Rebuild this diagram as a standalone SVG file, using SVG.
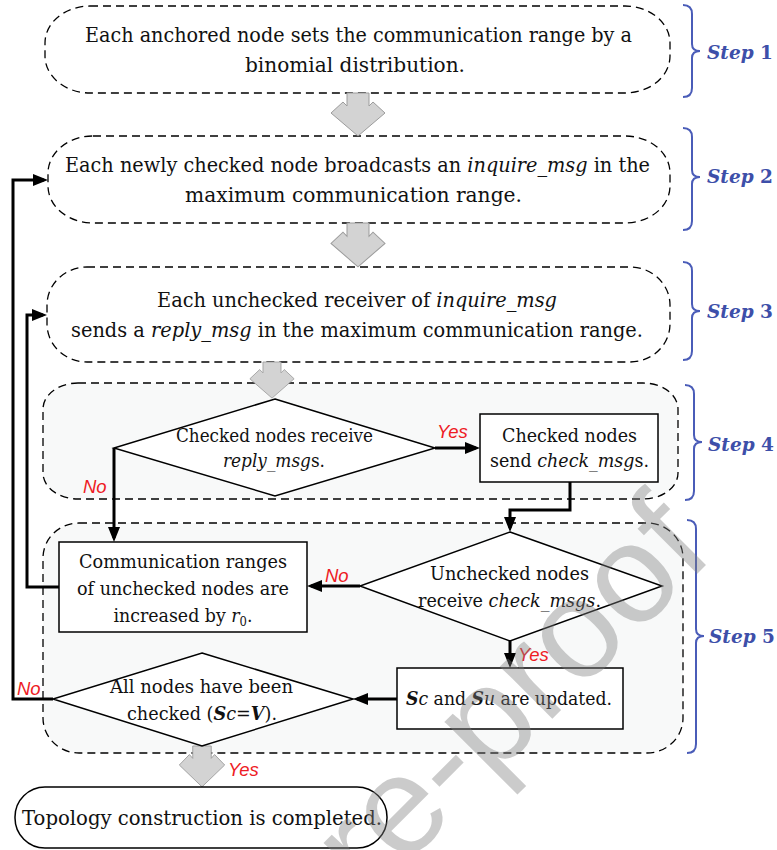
<svg xmlns="http://www.w3.org/2000/svg" width="777" height="850" viewBox="0 0 777 850">
<style>
.dash{fill:#fff;stroke:#000;stroke-width:1.3;stroke-dasharray:8 5}
.region{fill:#f8f9f9;stroke:#000;stroke-width:1.3;stroke-dasharray:8 5}
.shape{fill:#fff;stroke:#000;stroke-width:1.5}
.t{font-family:"DejaVu Serif",serif;font-size:21px;fill:#111;text-anchor:middle}
.s{font-size:18px}
.i{font-style:italic}
.b{font-weight:bold}
.lab{font-family:"Liberation Sans",Arial,sans-serif;font-style:italic;fill:#ee1c25;font-size:18.5px}
.step{font-family:"DejaVu Serif",serif;font-weight:bold;fill:#3d4fa9;font-size:19px}
.brace{fill:none;stroke:#4a5cb8;stroke-width:2}
.conn{fill:none;stroke:#000;stroke-width:3;marker-end:url(#ah)}
.fat{fill:#d3d3d3;stroke:#9c9c9c;stroke-width:1}
.wm{font-family:"Liberation Sans",Arial,sans-serif;font-size:140px;fill:#808080;opacity:0.4}
</style>
<defs>
<marker id="ah" markerUnits="userSpaceOnUse" markerWidth="15" markerHeight="12" refX="11" refY="6" orient="auto">
<path d="M0,0 L15,6 L0,12 Z" fill="#000"/>
</marker>
<path id="fatArrow" d="M-11,0 H11 V13 L15,9 L27,20 L0,43 L-27,20 L-15,9 L-11,13 Z"/>
</defs>
<rect width="777" height="850" fill="#fff"/>

<g id="step4-region"><rect class="region" x="43" y="383" width="635" height="116" rx="35" ry="26"/></g>
<g id="step5-region"><rect class="region" x="43" y="523" width="640" height="230" rx="36" ry="35"/></g>

<g id="step1">
<rect class="dash" x="45" y="6" width="625" height="87" rx="45" ry="37"/>
<text class="t" x="358.5" y="41.5" textLength="547" lengthAdjust="spacingAndGlyphs">Each anchored node sets the communication range by a</text>
<text class="t" x="355" y="71.5" textLength="220" lengthAdjust="spacingAndGlyphs">binomial distribution.</text>
</g>

<g id="step2">
<rect class="dash" x="48" y="136" width="622" height="87" rx="45" ry="37"/>
<text class="t" x="357.5" y="172" textLength="585" lengthAdjust="spacingAndGlyphs">Each newly checked node broadcasts an <tspan class="i">inquire_msg</tspan> in the</text>
<text class="t" x="353.5" y="202" textLength="337" lengthAdjust="spacingAndGlyphs">maximum communication range.</text>
</g>

<g id="step3">
<rect class="dash" x="47" y="267" width="623" height="95" rx="40" ry="38"/>
<text class="t" x="357" y="307" textLength="400" lengthAdjust="spacingAndGlyphs">Each unchecked receiver of <tspan class="i">inquire_msg</tspan></text>
<text class="t" x="357" y="337" textLength="572" lengthAdjust="spacingAndGlyphs">sends a <tspan class="i">reply_msg</tspan> in the maximum communication range.</text>
</g>

<g id="fat-arrows">
<use href="#fatArrow" class="fat" transform="translate(358,93)"/>
<use href="#fatArrow" class="fat" transform="translate(358,223) scale(1,1.02)"/>
<use href="#fatArrow" class="fat" transform="translate(272,362) scale(0.82,0.84)"/>
<use href="#fatArrow" class="fat" transform="translate(202,746) scale(0.84,0.95)"/>
</g>

<g id="d1">
<polygon class="shape" points="275,399 435,448 275,496 114,448"/>
<text class="t s" x="274.5" y="442" textLength="197" lengthAdjust="spacingAndGlyphs">Checked nodes receive</text>
<text class="t s" x="274" y="467" textLength="102" lengthAdjust="spacingAndGlyphs"><tspan class="i">reply_msg</tspan>s.</text>
</g>

<g id="p1">
<rect class="shape" x="480" y="414" width="178" height="68"/>
<text class="t s" x="569.5" y="442" textLength="135" lengthAdjust="spacingAndGlyphs">Checked nodes</text>
<text class="t s" x="569.5" y="467" textLength="159" lengthAdjust="spacingAndGlyphs">send <tspan class="i">check_msg</tspan>s.</text>
</g>

<g id="p2">
<rect class="shape" x="59" y="542" width="248" height="90"/>
<text class="t s" x="183" y="568" textLength="208" lengthAdjust="spacingAndGlyphs">Communication ranges</text>
<text class="t s" x="183" y="595" textLength="212" lengthAdjust="spacingAndGlyphs">of unchecked nodes are</text>
<text class="t s" x="183" y="622" textLength="139" lengthAdjust="spacingAndGlyphs">increased by <tspan class="i">r</tspan><tspan font-size="12" dy="4">0</tspan><tspan dy="-4">.</tspan></text>
</g>

<g id="d2">
<polygon class="shape" points="510,532 662,586 510,641 360,586"/>
<text class="t s" x="509.5" y="580" textLength="159" lengthAdjust="spacingAndGlyphs">Unchecked nodes</text>
<text class="t s" x="509.5" y="607" textLength="183" lengthAdjust="spacingAndGlyphs">receive <tspan class="i">check_msgs</tspan>.</text>
</g>

<g id="p3">
<rect class="shape" x="397" y="668" width="226" height="61"/>
<text class="t s" x="509" y="705" textLength="206" lengthAdjust="spacingAndGlyphs"><tspan class="i b">S</tspan><tspan class="i">c</tspan> and <tspan class="i b">S</tspan><tspan class="i">u</tspan> are updated.</text>
</g>

<g id="d3">
<polygon class="shape" points="202,653 353,699 202,746 53,699"/>
<text class="t s" x="201.5" y="693" textLength="183" lengthAdjust="spacingAndGlyphs">All nodes have been</text>
<text class="t s" x="202" y="720" textLength="150" lengthAdjust="spacingAndGlyphs">checked (<tspan class="i b">S</tspan><tspan class="i">c</tspan>=<tspan class="i b">V</tspan>).</text>
</g>

<g id="end">
<rect class="shape" x="15" y="787" width="372" height="61" rx="30" ry="30"/>
<text class="t" x="202" y="825" textLength="360" lengthAdjust="spacingAndGlyphs">Topology construction is completed.</text>
</g>

<g id="connectors">
<path class="conn" d="M435,448 H476"/>
<path class="conn" d="M570,482 V510 H510 V528"/>
<path class="conn" d="M114,448 V538"/>
<path class="conn" d="M360,586 H311"/>
<path class="conn" d="M59,587 H27 V315 H43"/>
<path class="conn" d="M53,699 H13 V180 H44"/>
<path class="conn" d="M510,641 V664"/>
<path class="conn" d="M397,699 H357"/>
</g>

<g id="edge-labels">
<text class="lab" x="437" y="438">Yes</text>
<text class="lab" x="83" y="493">No</text>
<text class="lab" x="325" y="582">No</text>
<text class="lab" x="518" y="661">Yes</text>
<text class="lab" x="17" y="695">No</text>
<text class="lab" x="228" y="776">Yes</text>
</g>

<g id="steps">
<path class="brace" d="M683,5 Q692,5 692,14 V44 Q692,51 700,51 Q692,51 692,58 V88 Q692,97 683,97"/>
<text class="step" x="707" y="59" textLength="66" lengthAdjust="spacingAndGlyphs"><tspan class="i">Step</tspan> 1</text>
<path class="brace" d="M683,128 Q692,128 692,137 V170 Q692,177 700,177 Q692,177 692,184 V221 Q692,230 683,230"/>
<text class="step" x="707" y="183" textLength="66" lengthAdjust="spacingAndGlyphs"><tspan class="i">Step</tspan> 2</text>
<path class="brace" d="M683,262 Q692,262 692,271 V304 Q692,311 700,311 Q692,311 692,318 V351 Q692,360 683,360"/>
<text class="step" x="707" y="318" textLength="66" lengthAdjust="spacingAndGlyphs"><tspan class="i">Step</tspan> 3</text>
<path class="brace" d="M685,385 Q694,385 694,394 V435 Q694,442 702,442 Q694,442 694,449 V491 Q694,500 685,500"/>
<text class="step" x="708" y="451" textLength="66" lengthAdjust="spacingAndGlyphs"><tspan class="i">Step</tspan> 4</text>
<path class="brace" d="M687,520 Q696,520 696,529 V629 Q696,636 704,636 Q696,636 696,643 V744 Q696,753 687,753"/>
<text class="step" x="709" y="643" textLength="66" lengthAdjust="spacingAndGlyphs"><tspan class="i">Step</tspan> 5</text>
</g>

<text class="wm" transform="translate(716,555) rotate(-45)" text-anchor="end">Journal Pre-proof</text>
</svg>
